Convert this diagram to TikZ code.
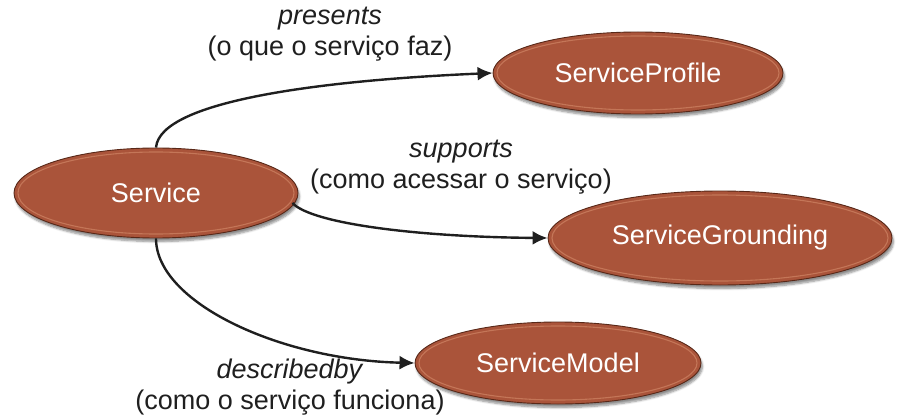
\documentclass[tikz,border=0pt]{standalone}
\usepackage{fontspec}
\setmainfont{Liberation Sans}
\usetikzlibrary{shapes.geometric,arrows.meta,shadows.blur,calc}

\definecolor{clay}{RGB}{170,84,58}
\definecolor{claydark}{RGB}{88,40,24}
\definecolor{clayrim}{RGB}{196,118,88}

\tikzset{
  bubble/.style={
    ellipse, inner sep=0pt, fill=clay, draw=claydark, line width=0.9pt,
    text=white, font=\fontsize{27}{31}\selectfont,
    blur shadow={shadow xshift=1.5pt, shadow yshift=-3.5pt, shadow blur steps=6, shadow opacity=45},
    path picture={
      \draw[clayrim, line width=1.1pt]
        let \p1=(path picture bounding box.south west),
            \p2=(path picture bounding box.north east) in
        ($(\p1)!.5!(\p2)$) ellipse ({(\x2-\x1)/2-4pt} and {(\y2-\y1)/2-4pt});
    }
  },
  link/.style={line width=2.4pt, color=black!88, -{Latex[length=15pt,width=14pt]}},
  caption/.style={align=center, font=\fontsize{27}{31}\selectfont, text=black!88}
}

\begin{document}
\begin{tikzpicture}[x=1pt, y=-1pt]
  \useasboundingbox (0,0) rectangle (899,417);

  % concept nodes
  \node[bubble, minimum width=284pt, minimum height=90pt] (svc)  at (156,193) {Service};
  \node[bubble, minimum width=290pt, minimum height=82pt] (prof) at (638,73)  {ServiceProfile};
  \node[bubble, minimum width=344pt, minimum height=94pt] (grnd) at (720,238) {ServiceGrounding};
  \node[bubble, minimum width=286pt, minimum height=82pt] (modl) at (558,363) {ServiceModel};

  % relations
  \draw[link] (svc.north) .. controls ($(svc.north)+(4,-48)$) and (330,80) .. (prof.west);
  \draw[link] (svc.east)+(-6,10) coordinate (sE)
              (sE) .. controls (312,224) and (420,237) .. (grnd.west);
  \draw[link] (svc.south) .. controls ($(svc.south)+(0,64)$) and (280,360) .. (modl.west);

  % relation labels
  \node[caption] (lp) at (330,34)  {\textit{presents}\\(o que o serviço faz)};
  \node[caption] (ls) at (461,167) {\textit{supports}\\(como acessar o serviço)};
  \node[caption] (ld) at (290,387) {\textit{describedby}\\(como o serviço funciona)};
\end{tikzpicture}
\end{document}
